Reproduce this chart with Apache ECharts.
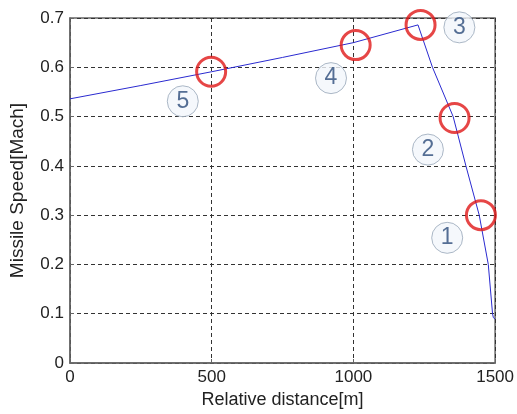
<!DOCTYPE html>
<html>
<head>
<meta charset="utf-8">
<script src="https://cdn.jsdelivr.net/npm/echarts@6/dist/echarts.min.js"></script>
<style>
  html, body { margin: 0; padding: 0; background: #fff; }
  #chart { width: 517px; height: 414px; }
</style>
</head>
<body>
<div id="chart"></div>
<script>
// speed curve
const distance = [0, 250, 500, 750, 1000, 1228, 1279, 1352, 1397, 1444, 1476, 1491, 1494, 1500];
const speed = [0.536, 0.563, 0.591, 0.620, 0.650, 0.686, 0.600, 0.500, 0.400, 0.300, 0.200, 0.100, 0.092, 0.089];

// red circles
const markX = [1450, 1357, 1237, 1008, 498];
const markY = [0.300, 0.497, 0.686, 0.645, 0.591];

// circled numbers
const tagText = ['1', '2', '3', '4', '5'];
const tagX = [1331, 1263, 1374, 921, 398];
const tagY = [0.254, 0.433, 0.681, 0.578, 0.531];

const xTicks = { min: 0, max: 1500, interval: 500 };
const yTicks = { min: 0, max: 0.7, interval: 0.1 };

const font = 'Liberation Sans, Arial, sans-serif';
const gridLine = { show: true, lineStyle: { color: '#333', type: [4, 3], width: 1 } };

const chart = echarts.init(document.getElementById('chart'));
chart.setOption({
  animation: false,
  grid: {
    left: 68, right: 21, top: 18, bottom: 50,
    show: true, borderColor: '#666', borderWidth: 1.5
  },
  xAxis: {
    type: 'value',
    min: xTicks.min, max: xTicks.max, interval: xTicks.interval,
    name: 'Relative distance[m]',
    nameLocation: 'middle', nameGap: 28,
    nameTextStyle: { fontFamily: font, fontSize: 18, color: '#222' },
    axisLine: { show: true, lineStyle: { color: '#666', width: 1.5 } },
    axisTick: { show: true, inside: true, length: 4, lineStyle: { color: '#666' } },
    axisLabel: {
      fontFamily: font, fontSize: 17, color: '#222', margin: 6,
      formatter: v => String(v)
    },
    splitLine: gridLine
  },
  yAxis: {
    type: 'value',
    min: yTicks.min, max: yTicks.max, interval: yTicks.interval,
    name: 'Missile Speed[Mach]',
    nameLocation: 'middle', nameGap: 43, nameRotate: 90,
    nameTextStyle: { fontFamily: font, fontSize: 19, color: '#222' },
    axisLine: { show: true, lineStyle: { color: '#666', width: 1.5 } },
    axisTick: { show: true, inside: true, length: 4, lineStyle: { color: '#666' } },
    axisLabel: {
      fontFamily: font, fontSize: 17, color: '#222', margin: 6,
      formatter: v => v === 0 ? '0' : v.toFixed(1)
    },
    splitLine: gridLine
  },
  series: [
    {
      type: 'line',
      data: distance.map((d, i) => [d, speed[i]]),
      showSymbol: false,
      lineStyle: { color: '#2a2ad0', width: 1 },
      z: 2
    },
    {
      type: 'scatter',
      data: markX.map((d, i) => [d, markY[i]]),
      symbol: 'circle',
      symbolSize: 29,
      itemStyle: { color: 'rgba(0,0,0,0)', borderColor: '#e01818', borderWidth: 3 },
      z: 3
    },
    {
      type: 'scatter',
      data: tagX.map((d, i) => [d, tagY[i], tagText[i]]),
      symbol: 'circle',
      symbolSize: 31,
      itemStyle: { color: '#f2f6fb', borderColor: '#97a6b8', borderWidth: 1 },
      label: {
        show: true,
        position: 'inside',
        formatter: p => p.value[2],
        fontFamily: font,
        fontSize: 23,
        color: '#2c4b7a'
      },
      z: 4
    }
  ]
});
</script>
</body>
</html>
